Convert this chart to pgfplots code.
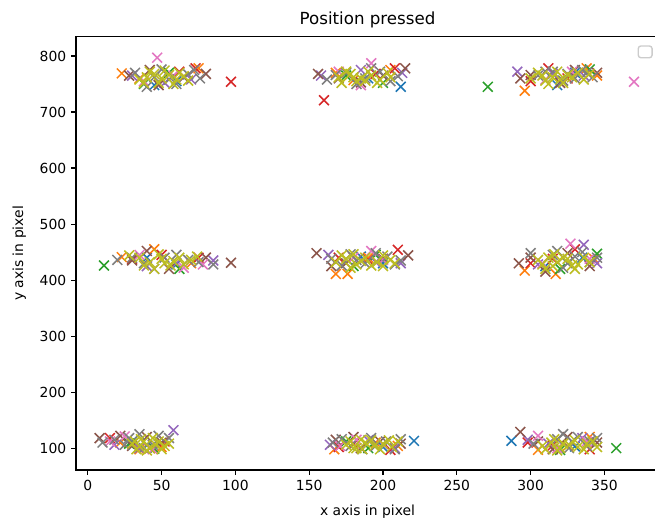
\documentclass[border=0pt]{standalone}
\usepackage{pgfplots}
\pgfplotsset{compat=1.18}
\usepackage{fontspec}
\setmainfont{DejaVu Sans}
\definecolor{tabblue}{HTML}{1F77B4}
\definecolor{taborange}{HTML}{FF7F0E}
\definecolor{tabgreen}{HTML}{2CA02C}
\definecolor{tabred}{HTML}{D62728}
\definecolor{tabpurple}{HTML}{9467BD}
\definecolor{tabbrown}{HTML}{8C564B}
\definecolor{tabpink}{HTML}{E377C2}
\definecolor{tabgray}{HTML}{7F7F7F}
\definecolor{tabolive}{HTML}{BCBD22}
\pgfplotsset{mk/.style={only marks, mark=x, mark size=5pt, line width=1.1pt, color=#1, mark options={solid, draw=#1}}}
\begin{document}
\begin{tikzpicture}
\begin{axis}[
    name=ax,
    scale only axis,
    width=419.8pt, height=311.8pt,
    xmin=-8, xmax=387, ymin=61, ymax=834,
    xtick={0,50,...,350}, ytick={100,200,...,800},
    tick align=outside, xtick pos=lower, ytick pos=left,
    major tick length=3.5pt,
    every tick/.style={black, line width=0.8pt},
    axis line style={line width=0.8pt},
    tick label style={font=\fontsize{10}{12}\selectfont},
    /pgf/number format/assume math mode=true,
    title={Position pressed},
    title style={font=\fontsize{12}{14}\selectfont, yshift=-3pt},
    xlabel={x axis in pixel}, ylabel={y axis in pixel},
    label style={font=\fontsize{10}{12}\selectfont},
    xlabel style={yshift=-3.5pt},
    ylabel style={yshift=3pt},
]
% blue
\addplot[mk=tabblue] coordinates {(45,748) (60,755) (212,745) (190,760) (318,748) (330,770)
  (60,428) (40,440) (200,430) (185,442) (310,425) (335,440)
  (40,105) (30,112) (221,113) (200,102) (287,113) (330,103)};
% orange
\addplot[mk=taborange] coordinates {(23,769) (75,778) (35,760) (168,770) (205,775) (180,757)
  (296,738) (345,765) (338,778) (23,441) (45,455) (70,430) (168,411) (176,411) (190,440)
  (296,417) (317,411) (343,438) (35,98) (22,110) (50,102) (167,98) (195,110) (210,104)
  (305,97) (340,120) (325,104)};
% green
\addplot[mk=tabgreen] coordinates {(38,750) (55,770) (175,765) (200,752) (271,745) (340,776)
  (11,426) (62,420) (180,425) (195,445) (345,447) (320,420)
  (45,99) (28,108) (190,100) (175,112) (358,100) (320,97)};
% red
\addplot[mk=tabred] coordinates {(97,754) (73,778) (62,772) (160,721) (195,768) (208,778)
  (312,778) (325,760) (300,755) (30,438) (75,440) (50,445) (210,454) (190,436) (170,440)
  (300,430) (330,455) (315,438) (15,118) (42,100) (52,112) (205,97) (180,108) (170,102)
  (315,105) (340,98) (298,110)};
% purple
\addplot[mk=tabpurple] coordinates {(70,758) (30,765) (52,752) (158,765) (185,775) (213,770)
  (291,772) (315,768) (336,765) (40,425) (60,430) (85,435) (163,445) (195,432) (212,430)
  (336,463) (305,428) (345,430) (58,132) (18,106) (35,100) (164,106) (190,114) (208,100)
  (298,115) (312,108) (335,118)};
% brown
\addplot[mk=tabbrown] coordinates {(28,765) (42,775) (65,762) (80,768) (48,748)
  (156,768) (170,760) (215,778) (200,765) (185,753)
  (293,760) (300,766) (330,775) (345,770) (320,752)
  (97,431) (40,452) (80,440) (55,420) (30,435)
  (155,448) (217,444) (175,430) (200,438) (165,425)
  (292,430) (300,440) (325,448) (340,425) (310,415)
  (8,118) (22,122) (50,110) (30,104) (40,120)
  (168,115) (180,120) (198,112) (212,108) (185,100)
  (293,129) (305,112) (325,120) (345,110) (315,98)};
% pink
\addplot[mk=tabpink] coordinates {(47,797) (58,765) (38,755) (192,787) (185,748) (170,772)
  (370,754) (328,772) (310,758) (65,422) (35,445) (78,428) (192,452) (180,440) (200,436)
  (327,465) (340,438) (308,430) (25,121) (15,112) (44,98) (182,115) (200,107) (171,104)
  (305,122) (318,100) (338,112)};
% gray
\addplot[mk=tabgray] coordinates {(32,770) (45,762) (55,758) (68,767) (76,760) (40,745)
  (60,750) (72,775) (50,776)
  (162,758) (175,770) (188,760) (198,772) (210,764) (182,750)
  (168,766) (205,755) (192,778)
  (305,765) (315,772) (325,768) (335,775) (342,762) (322,756)
  (330,760) (338,770) (310,772)
  (20,436) (38,430) (52,440) (68,436) (85,428) (45,420)
  (60,445) (75,432) (30,440)
  (165,438) (178,446) (188,430) (203,442) (212,435) (172,426)
  (195,448) (208,428) (182,436)
  (300,448) (315,445) (325,430) (335,450) (345,440) (322,422)
  (330,442) (340,432) (318,452)
  (10,110) (18,115) (28,118) (44,106) (55,118) (35,125)
  (25,106) (48,122) (38,100)
  (166,110) (178,104) (192,118) (202,112) (212,116) (186,98)
  (195,104) (208,98) (172,116)
  (302,108) (318,116) (328,112) (338,104) (345,118) (322,125)
  (332,120) (326,100) (340,112)};
% olive
\addplot[mk=tabolive] coordinates {(40,762) (45,768) (50,760) (55,766) (60,758) (48,752) (65,764) (35,758)
  (42,772) (52,774) (58,750) (62,770) (38,752) (68,756)
  (170,762) (178,768) (185,760) (192,765) (198,758) (205,762) (182,755) (175,772)
  (172,752) (180,762) (190,772) (196,752) (203,770) (188,756)
  (300,760) (308,765) (315,762) (320,758) (325,766) (332,770) (312,750) (340,768)
  (305,770) (318,772) (322,752) (328,762) (336,758) (310,756)
  (35,440) (42,432) (50,438) (56,426) (62,440) (70,436) (45,420) (28,444)
  (38,426) (48,446) (58,434) (65,428) (74,442) (52,430)
  (168,432) (175,438) (182,428) (188,440) (196,432) (205,436) (178,422) (200,425)
  (172,444) (185,434) (192,426) (200,444) (208,430) (180,446)
  (305,436) (312,440) (318,432) (325,438) (332,428) (315,425) (330,420) (340,432)
  (308,428) (316,446) (322,440) (328,426) (336,440) (310,420)
  (30,108) (35,103) (38,112) (42,100) (46,106) (33,98) (48,112) (52,104)
  (36,116) (40,96) (44,118) (50,98) (32,112) (55,108)
  (175,106) (182,100) (188,110) (194,104) (200,108) (206,102) (185,115) (210,112)
  (178,112) (186,98) (192,114) (198,98) (204,114) (180,100)
  (308,104) (314,110) (320,100) (326,106) (332,102) (338,108) (318,96) (345,102)
  (310,98) (316,116) (322,108) (330,114) (336,98) (342,112)};
\end{axis}
% empty legend frame
\draw[black!20, line width=1pt, fill=white, rounded corners=2pt]
  ([xshift=-15pt,yshift=-15pt]ax.north east) rectangle ([xshift=-5pt,yshift=-6.5pt]ax.north east);
\pgfresetboundingbox
\path[use as bounding box] ([xshift=-54.72pt,yshift=-37.44pt]ax.south west)
  rectangle ([xshift=416.88pt,yshift=338.4pt]ax.south west);
\end{tikzpicture}
\end{document}
